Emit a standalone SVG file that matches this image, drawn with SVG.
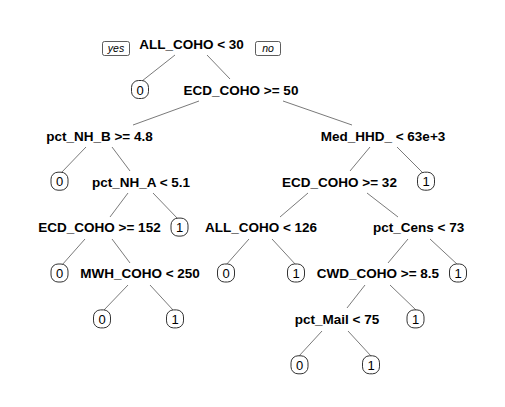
<svg xmlns="http://www.w3.org/2000/svg" width="505" height="407" viewBox="0 0 505 407">
<style>
.split{font-family:"Liberation Sans",Arial,sans-serif;font-size:13.5px;font-weight:bold;fill:#000;text-anchor:middle}
.leaf rect{fill:#fff;stroke:#333;stroke-width:1}
.leaf text{font-family:"Liberation Sans",Arial,sans-serif;font-size:13px;fill:#000;text-anchor:middle}
.yn rect{fill:#fff;stroke:#333;stroke-width:0.8}
.yn text{font-family:"Liberation Sans",Arial,sans-serif;font-size:10.5px;font-style:italic;fill:#000;text-anchor:middle}
#connectors line{stroke:#7a7a7a;stroke-width:1}
</style>
<rect width="505" height="407" fill="#fff"/>
<g id="connectors">
<line x1="175" y1="55" x2="142" y2="81"/>
<line x1="207" y1="55" x2="230" y2="79"/>
<line x1="199" y1="101" x2="133" y2="125"/>
<line x1="283" y1="101" x2="352" y2="125"/>
<line x1="86" y1="147" x2="61" y2="173"/>
<line x1="112" y1="147" x2="130" y2="171"/>
<line x1="370" y1="147" x2="350" y2="171"/>
<line x1="397" y1="147" x2="423" y2="173"/>
<line x1="128" y1="193" x2="110" y2="217"/>
<line x1="153" y1="193" x2="178" y2="219"/>
<line x1="308" y1="193" x2="280" y2="217"/>
<line x1="367" y1="193" x2="398" y2="217"/>
<line x1="85" y1="239" x2="62" y2="265"/>
<line x1="112" y1="239" x2="130" y2="263"/>
<line x1="249" y1="239" x2="226" y2="265"/>
<line x1="272" y1="239" x2="296" y2="265"/>
<line x1="408" y1="239" x2="388" y2="263"/>
<line x1="430" y1="239" x2="458" y2="265"/>
<line x1="128" y1="285" x2="104" y2="310"/>
<line x1="150" y1="285" x2="173" y2="310"/>
<line x1="365" y1="285" x2="347" y2="308"/>
<line x1="390" y1="285" x2="416" y2="310"/>
<line x1="322" y1="331" x2="299" y2="356"/>
<line x1="348" y1="331" x2="371" y2="356"/>
</g>
<g id="yes" class="yn"><rect x="102.5" y="41.5" width="27" height="14" rx="2"/><text x="116" y="52.2">yes</text></g>
<g id="no" class="yn"><rect x="255.5" y="41.5" width="25" height="14" rx="2"/><text x="268" y="52.2">no</text></g>
<g id="n1"><text class="split" x="191.5" y="49">ALL_COHO &lt; 30</text></g>
<g id="n2" class="leaf"><rect x="131.5" y="80.5" width="17" height="18" rx="7"/><text x="140" y="94.5">0</text></g>
<g id="n3"><text class="split" x="241" y="94.7">ECD_COHO &gt;= 50</text></g>
<g id="n6"><text class="split" x="99.5" y="140.6">pct_NH_B &gt;= 4.8</text></g>
<g id="n7"><text class="split" x="383" y="140.6">Med_HHD_ &lt; 63e+3</text></g>
<g id="n12" class="leaf"><rect x="51" y="172.2" width="17" height="18" rx="7"/><text x="59.5" y="186.2">0</text></g>
<g id="n13"><text class="split" x="141" y="186.5">pct_NH_A &lt; 5.1</text></g>
<g id="n14"><text class="split" x="339.5" y="186.5">ECD_COHO &gt;= 32</text></g>
<g id="n15" class="leaf"><rect x="417.5" y="172.2" width="17" height="18" rx="7"/><text x="426" y="186.2">1</text></g>
<g id="n26"><text class="split" x="99.5" y="232.4">ECD_COHO &gt;= 152</text></g>
<g id="n27" class="leaf"><rect x="171" y="218.1" width="17" height="18" rx="7"/><text x="179.5" y="232.1">1</text></g>
<g id="n28"><text class="split" x="261" y="232.4">ALL_COHO &lt; 126</text></g>
<g id="n29"><text class="split" x="418.6" y="232.4">pct_Cens &lt; 73</text></g>
<g id="n52" class="leaf"><rect x="51" y="264" width="17" height="18" rx="7"/><text x="59.5" y="278">0</text></g>
<g id="n53"><text class="split" x="140" y="278.3">MWH_COHO &lt; 250</text></g>
<g id="n56" class="leaf"><rect x="217.5" y="264" width="17" height="18" rx="7"/><text x="226" y="278">0</text></g>
<g id="n57" class="leaf"><rect x="287.5" y="264" width="17" height="18" rx="7"/><text x="296" y="278">1</text></g>
<g id="n58"><text class="split" x="378" y="278.3">CWD_COHO &gt;= 8.5</text></g>
<g id="n59" class="leaf"><rect x="449.5" y="264" width="17" height="18" rx="7"/><text x="458" y="278">1</text></g>
<g id="n106" class="leaf"><rect x="93.5" y="309.9" width="17" height="18" rx="7"/><text x="102" y="323.9">0</text></g>
<g id="n107" class="leaf"><rect x="166.5" y="309.9" width="17" height="18" rx="7"/><text x="175" y="323.9">1</text></g>
<g id="n116"><text class="split" x="337" y="324.2">pct_Mail &lt; 75</text></g>
<g id="n117" class="leaf"><rect x="407" y="309.9" width="17" height="18" rx="7"/><text x="415.5" y="323.9">1</text></g>
<g id="n232" class="leaf"><rect x="291" y="355.8" width="17" height="18" rx="7"/><text x="299.5" y="369.8">0</text></g>
<g id="n233" class="leaf"><rect x="362.5" y="355.8" width="17" height="18" rx="7"/><text x="371" y="369.8">1</text></g>
</svg>
